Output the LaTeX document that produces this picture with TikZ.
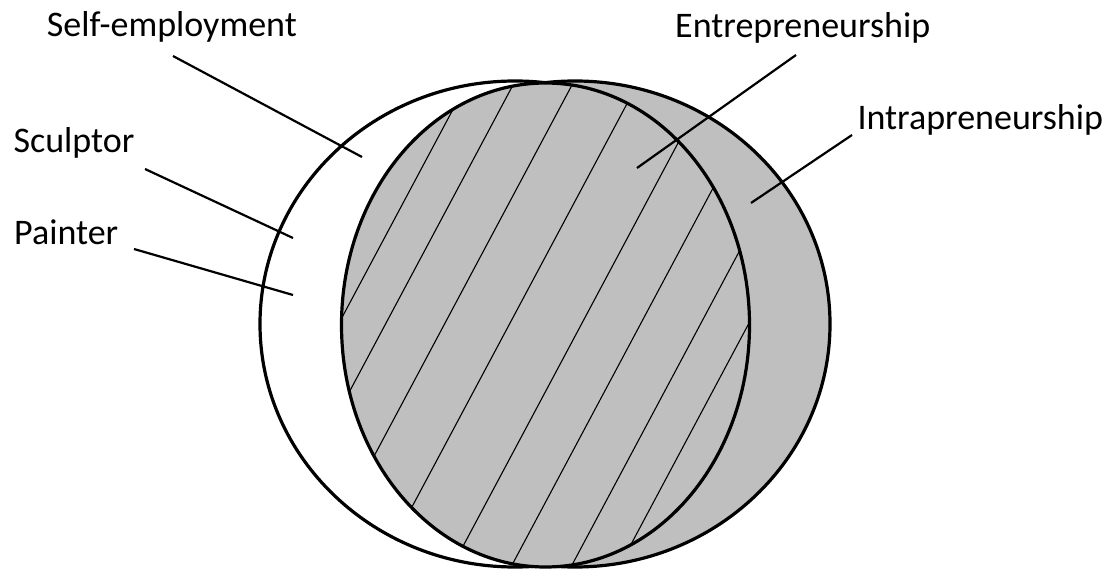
\documentclass[tikz,border=0pt]{standalone}
\usepackage{fontspec}
\setmainfont{Carlito}
\begin{document}
\begin{tikzpicture}[
    x=1pt, y=-1pt,
    tag/.style={anchor=base west, inner sep=0pt, font=\fontsize{36}{43}\selectfont},
    ring/.style={draw, line width=3.2pt},
    lead/.style={line width=2.2pt},
    hatch/.style={line width=1.1pt}
]
\useasboundingbox (0,0) rectangle (1114,569);
\coordinate (selfc) at (515,324);
\coordinate (intrac) at (575,324);
\coordinate (entrec) at (545.5,325);

\begin{scope}
  \clip (545,0) rectangle (1114,569);
  \draw[ring, fill=black!25] (intrac) ellipse [x radius=255, y radius=243];
\end{scope}
\begin{scope}
  \clip (0,0) rectangle (545,569);
  \draw[ring, fill=white] (selfc) ellipse [x radius=255, y radius=243];
\end{scope}

\fill[black!25] (entrec) ellipse [x radius=204, y radius=242];
\begin{scope}
  \clip (entrec) ellipse [x radius=204, y radius=242];
  \foreach \x in {338,385,444,509,581,640,700,748}
    \draw[hatch] (\x-160,625) -- (\x+160,25);
\end{scope}
\draw[ring] (entrec) ellipse [x radius=204, y radius=242];

\node[tag] (self) at (46.7,36.7) {Self-employment};
\node[tag] (sculptor) at (13.3,152.7) {Sculptor};
\node[tag] (painter) at (14,245) {Painter};
\node[tag] (entre) at (675,37.3) {Entrepreneurship};
\node[tag] (intra) at (857.3,129.3) {Intrapreneurship};

\coordinate (selfa) at (173,56);
\coordinate (selfb) at (362,157);
\coordinate (sculptora) at (145,169);
\coordinate (sculptorb) at (293,238);
\coordinate (paintera) at (134,249);
\coordinate (painterb) at (293,295);
\coordinate (entrea) at (796,55);
\coordinate (entreb) at (637,168);
\coordinate (intraa) at (852,135);
\coordinate (intrab) at (751,203);

\draw[lead] (selfa) -- (selfb);
\draw[lead] (sculptora) -- (sculptorb);
\draw[lead] (paintera) -- (painterb);
\draw[lead] (entrea) -- (entreb);
\draw[lead] (intraa) -- (intrab);
\end{tikzpicture}
\end{document}
